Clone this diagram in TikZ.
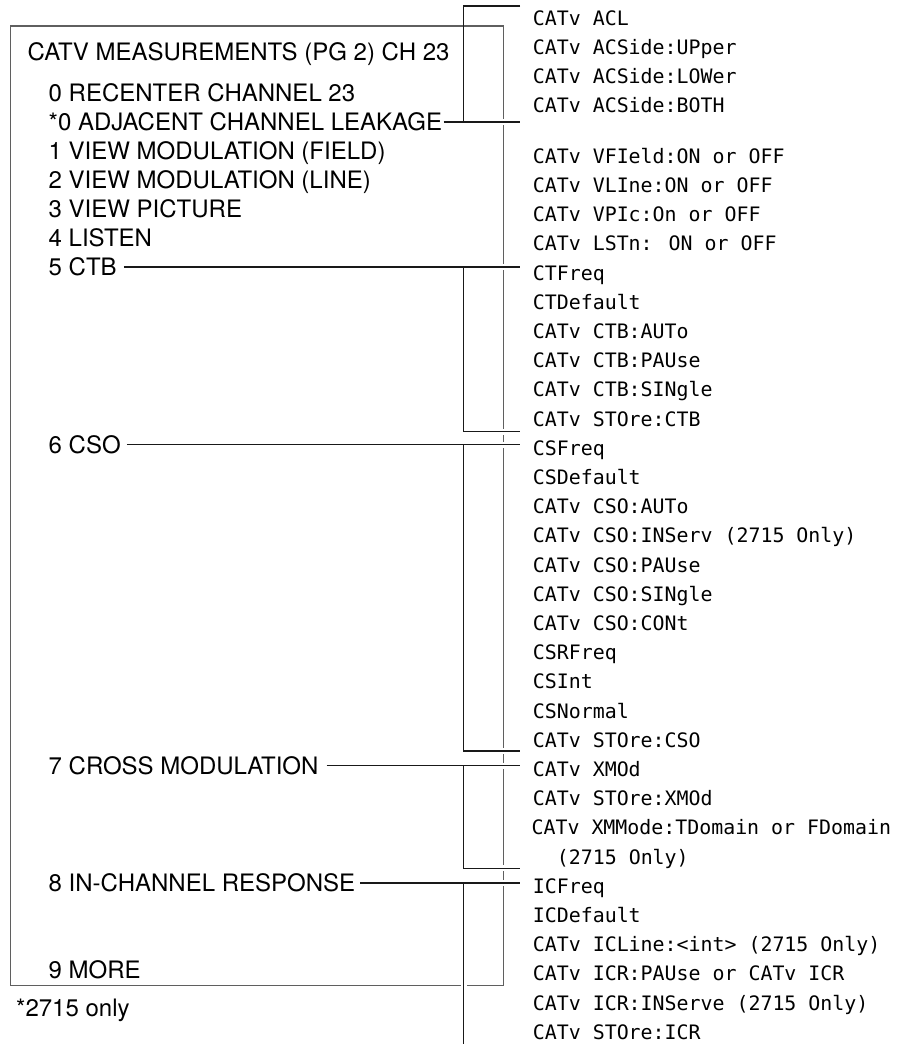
\documentclass[tikz,border=0pt]{standalone}
\usepackage{fontspec}
\newfontfamily\herosf{TeX Gyre Heros}
\newfontfamily\monof{DejaVu Sans Mono}
\definecolor{boxc}{RGB}{95,95,95}
\definecolor{linec}{RGB}{25,25,25}
\tikzset{
  conn/.style={draw=linec, line width=1.3pt},
  halo/.style={draw=white, line width=6pt},
  boxline/.style={draw=boxc, line width=1.2pt},
  lefttxt/.style={anchor=base west, inner sep=0pt, font=\herosf\fontsize{24}{29}\selectfont, text=black},
  cmd/.style={anchor=base west, inner sep=0pt, font=\monof\fontsize{19.9}{24}\selectfont, text=black},
}
\newcommand\drawconnectors[1]{%
  \draw[#1] ([xshift=1.5pt]tacl.east) -- (tacl.east -| xe);
  \draw[#1] ([xshift=7pt]tctb.east) -- (tctb.east -| xe);
  \draw[#1] (tctb.east -| xb) |- (ctbbot);
  \draw[#1] ([xshift=6pt]tcso.east) -- (tcso.east -| xe);
  \draw[#1] (tcso.east -| xb) |- (csobot);
  \draw[#1] ([xshift=8pt]txm.east) -- (txm.east -| xe);
  \draw[#1] (txm.east -| xb) |- (xmbot);
  \draw[#1] ([xshift=5pt]tic.east) -- (tic.east -| xe);
  \draw[#1] (tic.east -| xb) -- (icend);
}
\begin{document}
\begin{tikzpicture}[x=1pt,y=-1pt]
\useasboundingbox (0,0) rectangle (904,1044);
% helper coordinates
\coordinate (xb) at (463.5,0);
\coordinate (xe) at (520,0);
\coordinate (acltop) at (520,6);
\coordinate (ctbbot) at (520,431.7);
\coordinate (csobot) at (520,751);
\coordinate (xmbot) at (520,868.3);
\coordinate (icend) at (463.5,1044);
% menu box
\draw[boxline] (10.5,26) rectangle (503.5,985.7);
% left menu texts
\node[lefttxt] (title) at (27.5,60) {CATV MEASUREMENTS (PG 2) CH 23};
\node[lefttxt] (t0) at (48.5,101.7) {0 RECENTER CHANNEL 23};
\node[lefttxt] (tacl) at (48.5,130.7) {*0 ADJACENT CHANNEL LEAKAGE};
\node[lefttxt] (t1) at (48.5,159.7) {1 VIEW MODULATION (FIELD)};
\node[lefttxt] (t2) at (48.5,188.7) {2 VIEW MODULATION (LINE)};
\node[lefttxt] (t3) at (48.5,217.7) {3 VIEW PICTURE};
\node[lefttxt] (t4) at (48.5,246.7) {4 LISTEN};
\node[lefttxt] (tctb) at (48.5,275.7) {5 CTB};
\node[lefttxt] (tcso) at (48.5,453.4) {6 CSO};
\node[lefttxt] (txm) at (48.5,774.3) {7 CROSS MODULATION};
\node[lefttxt] (tic) at (48.5,891.7) {8 IN-CHANNEL RESPONSE};
\node[lefttxt] (t9) at (48.5,978.5) {9 MORE};
\node[lefttxt] (foot) at (16,1016.7) {*2715 only};
% connectors: white gaps first, then lines
\drawconnectors{halo}
\drawconnectors{conn}
\draw[conn] (acltop) -| (tacl.east -| xb);
% right command texts
\node[cmd] (r1) at (532.7,25) {CATv ACL};
\node[cmd] (r2) at (532.7,54) {CATv ACSide:UPper};
\node[cmd] (r3) at (532.7,83) {CATv ACSide:LOWer};
\node[cmd] (r4) at (532.7,112) {CATv ACSide:BOTH};
\node[cmd] (c0) at (532.7,163.3) {CATv VFIeld:ON or OFF};
\node[cmd] (c1) at (532.7,192.5) {CATv VLIne:ON or OFF};
\node[cmd] (c2) at (532.7,221.7) {CATv VPIc:On or OFF};
\node[cmd] (c3) at (532.7,250.9) {CATv LSTn: ON or OFF};
\node[cmd] (c4) at (532.7,280.1) {CTFreq};
\node[cmd] (c5) at (532.7,309.3) {CTDefault};
\node[cmd] (c6) at (532.7,338.5) {CATv CTB:AUTo};
\node[cmd] (c7) at (532.7,367.7) {CATv CTB:PAUse};
\node[cmd] (c8) at (532.7,396.9) {CATv CTB:SINgle};
\node[cmd] (c9) at (532.7,426.1) {CATv STOre:CTB};
\node[cmd] (c10) at (532.7,455.3) {CSFreq};
\node[cmd] (c11) at (532.7,484.5) {CSDefault};
\node[cmd] (c12) at (532.7,513.7) {CATv CSO:AUTo};
\node[cmd] (c13) at (532.7,542.9) {CATv CSO:INServ (2715 Only)};
\node[cmd] (c14) at (532.7,572.1) {CATv CSO:PAUse};
\node[cmd] (c15) at (532.7,601.3) {CATv CSO:SINgle};
\node[cmd] (c16) at (532.7,630.5) {CATv CSO:CONt};
\node[cmd] (c17) at (532.7,659.7) {CSRFreq};
\node[cmd] (c18) at (532.7,688.9) {CSInt};
\node[cmd] (c19) at (532.7,718.1) {CSNormal};
\node[cmd] (c20) at (532.7,747.3) {CATv STOre:CSO};
\node[cmd] (c21) at (532.7,776.5) {CATv XMOd};
\node[cmd] (c22) at (532.7,805.7) {CATv STOre:XMOd};
\node[cmd] (c23) at (531.4,834.9) {CATv XMMode:TDomain or FDomain};
\node[cmd] (c24) at (556.7,864.1) {(2715 Only)};
\node[cmd] (c25) at (532.7,893.3) {ICFreq};
\node[cmd] (c26) at (532.7,922.5) {ICDefault};
\node[cmd] (c27) at (532.7,951.7) {CATv ICLine:<int> (2715 Only)};
\node[cmd] (c28) at (532.7,980.9) {CATv ICR:PAUse or CATv ICR};
\node[cmd] (c29) at (532.7,1010.1) {CATv ICR:INServe (2715 Only)};
\node[cmd] (c30) at (532.7,1039.3) {CATv STOre:ICR};
\end{tikzpicture}
\end{document}
